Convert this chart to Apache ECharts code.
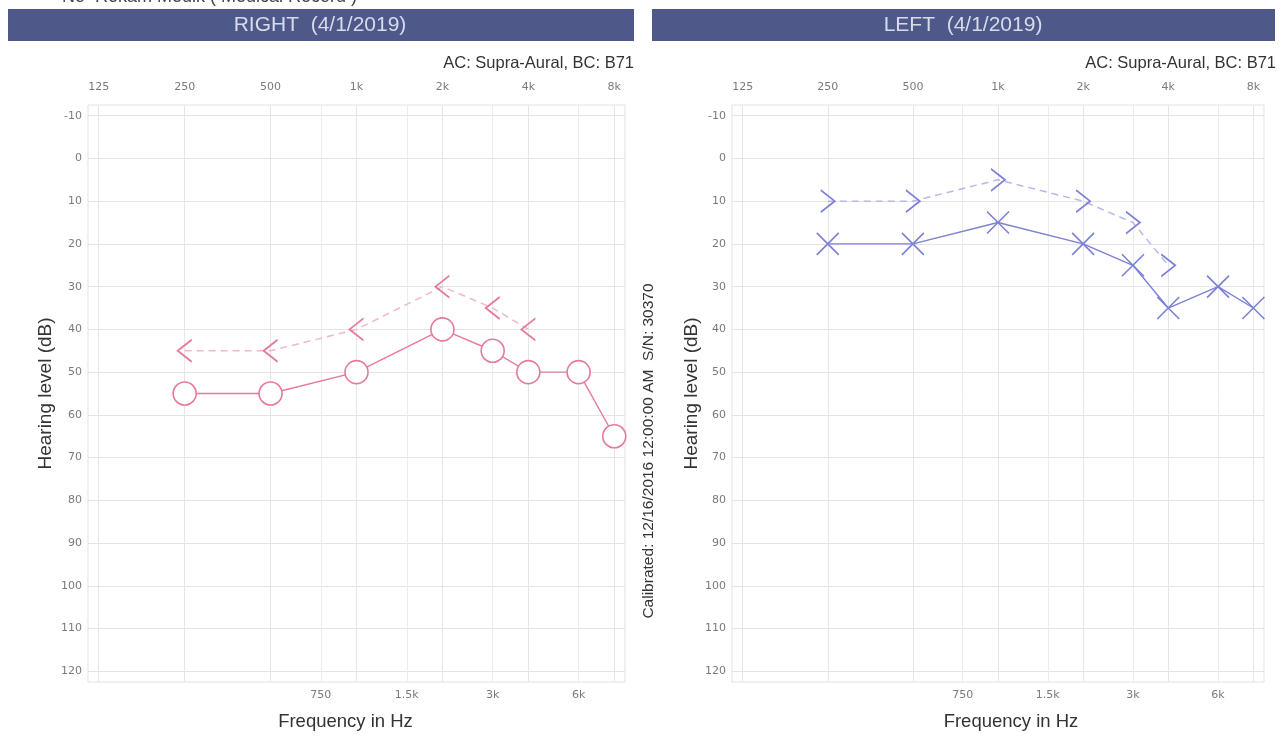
<!DOCTYPE html>
<html>
<head>
<meta charset="utf-8">
<script src="https://cdn.jsdelivr.net/npm/echarts@6/dist/echarts.min.js"></script>
<style>
html,body{margin:0;padding:0;background:#fff;}
#c{width:1280px;height:736px;}
</style>
</head>
<body>
<div id="c"></div>
<script>
// ---- data ----
var acFreqs = [250, 500, 1000, 2000, 3000, 4000, 6000, 8000];
var bcFreqs = [250, 500, 1000, 2000, 3000, 4000];
var rightAC = [55, 55, 50, 40, 45, 50, 50, 65];
var rightBC = [45, 45, 40, 30, 35, 40];
var leftAC = [20, 20, 15, 20, 25, 35, 30, 35];
var leftBC = [10, 10, 5, 10, 15, 25];

var topTickFreqs = [125, 250, 500, 1000, 2000, 4000, 8000];
var topTickLabels = ['125', '250', '500', '1k', '2k', '4k', '8k'];
var bottomTickFreqs = [750, 1500, 3000, 6000];
var bottomTickLabels = ['750', '1.5k', '3k', '6k'];
var dbTicks = [-10, 0, 10, 20, 30, 40, 50, 60, 70, 80, 90, 100, 110, 120];

// ---- helpers ----
function oct(f) { return Math.log2(f / 125); }
function labelFor(freqs, labels) {
  return function (v) {
    for (var i = 0; i < freqs.length; i++) {
      if (Math.abs(oct(freqs[i]) - v) < 1e-6) return labels[i];
    }
    return '';
  };
}
function pairs(fs, vs) { return fs.map(function (f, i) { return [oct(f), vs[i]]; }); }

var RED = '#e7799a';
var RED_L = '#efb9c8';
var BLUE = '#7c80d6';
var BLUE_L = '#b7b9ea';
var tickFont = {color: '#7a7a7a', fontSize: 11, fontFamily: 'DejaVu Sans'};

var grids = [
  {left: 88, top: 105, width: 537, height: 580, show: true, borderColor: '#e2e2e2', borderWidth: 1},
  {left: 732, top: 105, width: 532, height: 580, show: true, borderColor: '#e2e2e2', borderWidth: 1}
];

var xAxes = [], yAxes = [];
[0, 1].forEach(function (g) {
  xAxes.push({
    type: 'value', gridIndex: g, position: 'top', min: -0.125, max: 6.125,
    axisLine: {show: false}, axisTick: {show: false, customValues: topTickFreqs.map(oct)},
    axisLabel: Object.assign({customValues: topTickFreqs.map(oct), formatter: labelFor(topTickFreqs, topTickLabels), margin: 12}, tickFont),
    splitLine: {show: true, lineStyle: {color: '#e6e6e6', width: 1}}
  });
  xAxes.push({
    type: 'value', gridIndex: g, position: 'bottom', min: -0.125, max: 6.125,
    name: 'Frequency in Hz', nameLocation: 'middle', nameGap: 30,
    nameTextStyle: {color: '#333', fontSize: 18.5, fontFamily: 'Liberation Sans', padding: g === 0 ? [0, 22, 0, 0] : [0, 0, 0, 26]},
    axisLine: {show: false}, axisTick: {show: false, customValues: bottomTickFreqs.map(oct)},
    axisLabel: Object.assign({customValues: bottomTickFreqs.map(oct), formatter: labelFor(bottomTickFreqs, bottomTickLabels), margin: 8}, tickFont),
    splitLine: {show: true, lineStyle: {color: '#ececec', width: 1}}
  });
  yAxes.push({
    type: 'value', gridIndex: g, inverse: true, min: -12.5, max: 122.5,
    name: 'Hearing level (dB)', nameLocation: 'middle', nameGap: g === 0 ? 33 : 22,
    nameTextStyle: {color: '#333', fontSize: 19, fontFamily: 'Liberation Sans'},
    axisLine: {show: false}, axisTick: {show: false, customValues: dbTicks},
    axisLabel: Object.assign({customValues: dbTicks, margin: 6}, tickFont),
    splitLine: {show: true, lineStyle: {color: '#e4e4e4', width: 1}}
  });
});

var LT = 'path://M12,0 L0,10 L12,20';
var GT = 'path://M0,0 L12,10 L0,20';
var XX = 'path://M0,0 L20,20 M20,0 L0,20';

var series = [
  {
    name: 'Right BC', type: 'line', xAxisIndex: 0, yAxisIndex: 0,
    data: pairs(bcFreqs, rightBC), symbol: LT, symbolSize: [14, 22],
    lineStyle: {color: RED_L, width: 1.5, type: [7, 5]},
    itemStyle: {color: 'rgba(0,0,0,0)', borderColor: RED, borderWidth: 1.6},
    z: 3
  },
  {
    name: 'Right AC', type: 'line', xAxisIndex: 0, yAxisIndex: 0,
    data: pairs(acFreqs, rightAC), symbol: 'circle', symbolSize: 23,
    lineStyle: {color: RED, width: 1.4},
    itemStyle: {color: '#fff', borderColor: RED, borderWidth: 1.6},
    z: 4
  },
  {
    name: 'Left BC', type: 'line', xAxisIndex: 2, yAxisIndex: 1,
    data: pairs(bcFreqs, leftBC), symbol: GT, symbolSize: [14, 22],
    lineStyle: {color: BLUE_L, width: 1.5, type: [7, 5]},
    itemStyle: {color: 'rgba(0,0,0,0)', borderColor: BLUE, borderWidth: 1.6},
    z: 3
  },
  {
    name: 'Left AC', type: 'line', xAxisIndex: 2, yAxisIndex: 1,
    data: pairs(acFreqs, leftAC), symbol: XX, symbolSize: [22, 22],
    lineStyle: {color: BLUE, width: 1.4},
    itemStyle: {color: 'rgba(0,0,0,0)', borderColor: BLUE, borderWidth: 1.6},
    z: 4
  }
];

var headerColor = '#4e5989';
var graphic = [
  {type: 'text', left: 62, top: -12, style: {text: 'No  Rekam Medik ( Medical Record )', fill: '#444', font: '18px "Liberation Sans"'}},
  {type: 'rect', left: 8, top: 9, shape: {width: 626, height: 32}, style: {fill: headerColor}},
  {type: 'rect', left: 652, top: 9, shape: {width: 623, height: 32}, style: {fill: headerColor}},
  {type: 'text', x: 320, y: 25, style: {text: 'RIGHT  (4/1/2019)', fill: '#d7dbec', font: '21px "Liberation Sans"', textAlign: 'center', textVerticalAlign: 'middle'}},
  {type: 'text', x: 963, y: 25, style: {text: 'LEFT  (4/1/2019)', fill: '#d7dbec', font: '21px "Liberation Sans"', textAlign: 'center', textVerticalAlign: 'middle'}},
  {type: 'text', x: 634, y: 63, style: {text: 'AC: Supra-Aural, BC: B71', fill: '#333', font: '16.5px "Liberation Sans"', textAlign: 'right', textVerticalAlign: 'middle'}},
  {type: 'text', x: 1276, y: 63, style: {text: 'AC: Supra-Aural, BC: B71', fill: '#333', font: '16.5px "Liberation Sans"', textAlign: 'right', textVerticalAlign: 'middle'}},
  {type: 'text', x: 649, y: 451, rotation: Math.PI / 2, style: {text: 'Calibrated: 12/16/2016 12:00:00 AM  S/N: 30370', fill: '#333', font: '15.5px "Liberation Sans"', textAlign: 'center', textVerticalAlign: 'middle'}}
];

var chart = echarts.init(document.getElementById('c'));
chart.setOption({
  animation: false,
  backgroundColor: '#fff',
  grid: grids,
  xAxis: xAxes,
  yAxis: yAxes,
  series: series,
  graphic: graphic
});
</script>
</body>
</html>
